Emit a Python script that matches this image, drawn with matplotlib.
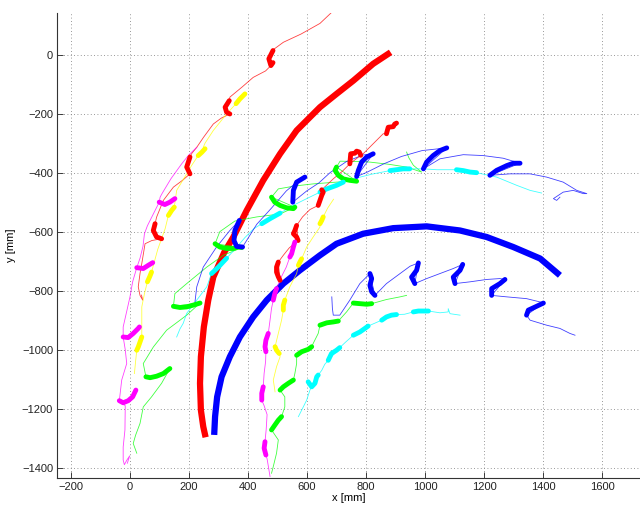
import matplotlib
matplotlib.use("Agg")
import matplotlib.pyplot as plt

plt.rcParams['font.family'] = ['Liberation Sans', 'DejaVu Sans']

# ---- main reference curves ----
red_curve_x = [257, 249, 241, 238, 241, 251, 266, 283, 320, 351, 396, 452, 509, 565, 644, 700, 757, 824, 883]
red_curve_y = [-1297, -1261, -1205, -1114, -1024, -923, -832, -754, -670, -618, -528, -426, -336, -257, -178, -133, -88, -31, 8]
blue_curve_x = [286, 289, 296, 311, 339, 373, 418, 464, 520, 576, 644, 700, 790, 892, 1005, 1118, 1208, 1298, 1389, 1456]
blue_curve_y = [-1289, -1227, -1160, -1092, -1024, -957, -889, -832, -776, -731, -680, -641, -607, -588, -582, -596, -618, -652, -691, -748]

# ---- trajectories: thin paths (x, y) and thick step segments ----
R1_path = [(682, 142), (644, 106), (580, 70), (520, 42), (490, 20), (485, 14), (471, -14), (478, -37), (460, -55),
           (418, -77), (380, -110), (339, -144), (337, -156), (323, -178), (328, -195), (339, -201), (310, -215),
           (283, -235), (250, -280), (227, -314), (210, -335), (204, -347), (193, -381), (204, -404), (180, -425),
           (148, -449), (114, -494), (91, -551), (86, -573), (80, -596), (91, -618), (108, -624), (75, -630),
           (52, -641), (41, -708), (35, -742), (29, -787), (35, -816), (44, -832), (40, -815)]
R1_steps = [[(485, 14), (471, -14), (478, -37), (485, -27)],
            [(337, -156), (323, -178), (328, -195), (339, -201)],
            [(204, -347), (193, -381), (204, -404)],
            [(86, -573), (80, -596), (91, -618), (108, -624)]]

M1_path = [(227, -314), (200, -340), (176, -370), (140, -420), (110, -470), (103, -483), (100, -500), (80, -540),
           (60, -580), (50, -607), (45, -650), (35, -690), (24, -722), (10, -770), (1, -821), (-10, -870),
           (-22, -923), (-22, -957), (-15, -1000), (-10, -1047), (-27, -1103), (-35, -1173), (-15, -1190),
           (-16, -1272), (-22, -1330), (-22, -1374), (-18, -1390), (-10, -1375), (0, -1360), (-8, -1385)]
M1_steps = [[(100, -500), (119, -508), (136, -500), (153, -488)],
            [(24, -722), (46, -725), (63, -714), (78, -705)],
            [(-22, -957), (-5, -959), (12, -945), (29, -928), (33, -923)],
            [(-35, -1173), (-22, -1180), (-5, -1173), (10, -1160), (21, -1137)]]

Y1_path = [(390, -133), (373, -150), (360, -166), (328, -201), (283, -257), (255, -300), (249, -314), (255, -319),
           (232, -342), (210, -375), (193, -404), (159, -460), (151, -517), (131, -545), (120, -590), (95, -660),
           (74, -737), (60, -770), (50, -810), (41, -855), (41, -900), (41, -957), (24, -1002), (20, -1040), (16, -1081)]
Y1_steps = [[(360, -166), (373, -150), (390, -133)],
            [(232, -342), (244, -331), (255, -319)],
            [(131, -545), (142, -528), (151, -517)],
            [(74, -737), (68, -752), (60, -770)],
            [(41, -957), (29, -991), (24, -1002)]]

G1_path = [(24, -1351), (12, -1318), (20, -1290), (35, -1250), (46, -1194), (74, -1160), (108, -1114), (136, -1064),
           (114, -1081), (91, -1090), (69, -1095), (55, -1092), (46, -1047), (80, -991), (125, -934), (193, -883),
           (238, -842), (148, -853), (153, -810), (193, -776), (261, -720), (317, -680), (379, -654), (289, -641),
           (305, -600), (356, -564), (430, -550), (509, -540), (559, -517), (480, -483), (503, -455), (560, -445),
           (621, -438), (700, -432), (768, -429), (700, -381), (712, -361), (760, -362), (812, -364), (880, -372),
           (937, -381), (988, -398), (960, -375), (945, -350), (937, -330)]
G1_steps = [[(136, -1064), (114, -1081), (91, -1090), (69, -1095), (55, -1092)],
            [(238, -842), (215, -849), (193, -855), (170, -857), (148, -853)],
            [(379, -654), (368, -652), (351, -657), (328, -657), (305, -652), (289, -641)],
            [(559, -517), (554, -522), (531, -519), (509, -511), (491, -500), (480, -483)],
            [(768, -429), (745, -426), (723, -421), (706, -409), (695, -392), (700, -381)]]

B1_path = [(221, -838), (227, -787), (249, -720), (294, -652), (339, -596), (371, -562), (356, -596), (353, -630),
           (362, -650), (382, -652), (430, -575), (480, -520), (530, -462), (570, -428), (593, -415), (565, -432),
           (554, -460), (552, -500), (599, -462), (640, -435), (678, -400), (734, -362), (790, -340), (824, -336),
           (768, -413), (800, -400), (860, -370),
           (920, -345), (990, -325), (1073, -316), (994, -387), (1050, -353), (1129, -339), (1196, -342),
           (1264, -351), (1321, -368), (1219, -409), (1287, -404), (1355, -404), (1411, -415), (1467, -432),
           (1513, -460), (1547, -471), (1535, -471), (1501, -460), (1467, -466), (1434, -488), (1445, -494), (1456, -483)]
B1_steps = [[(371, -562), (356, -596), (353, -630), (362, -650), (382, -652)],
            [(593, -415), (565, -432), (554, -460), (552, -500)],
            [(824, -336), (802, -347), (785, -364), (774, -392), (768, -413)],
            [(1073, -316), (1050, -325), (1027, -342), (1005, -364), (994, -387)],
            [(1321, -368), (1298, -368), (1276, -376), (1242, -392), (1219, -409)]]

C1_path = [(159, -957), (170, -930), (181, -911), (193, -877), (227, -832), (261, -787), (277, -742), (300, -720),
           (328, -690), (356, -660), (390, -620), (420, -590), (447, -573), (509, -537), (553, -511), (599, -488),
           (644, -466), (723, -432), (760, -420), (820, -405), (881, -393), (948, -387), (994, -387), (1039, -390),
           (1106, -390), (1174, -400), (1242, -415), (1310, -443), (1355, -460), (1394, -469)]
C1_steps = [[(277, -742), (300, -720), (328, -690)],
            [(447, -573), (475, -556), (509, -537)],
            [(644, -466), (667, -455), (700, -443), (723, -432)],
            [(881, -393), (903, -390), (926, -387), (948, -387)],
            [(1106, -390), (1129, -393), (1152, -398), (1174, -400)]]

R2_path = [(509, -765), (503, -703), (520, -680), (540, -655), (570, -630), (565, -579), (585, -550), (610, -525),
           (638, -511), (650, -458), (690, -420), (720, -395), (745, -370), (782, -341), (790, -336), (824, -302),
           (858, -268), (869, -268)]
R2_steps = [[(509, -765), (503, -753), (497, -737), (497, -720), (503, -703)],
            [(570, -630), (565, -618), (554, -607), (559, -596), (565, -579)],
            [(638, -511), (644, -494), (650, -477), (655, -466), (650, -458)],
            [(745, -370), (748, -336), (762, -334), (768, -327), (777, -330), (782, -341)],
            [(869, -268), (875, -246), (892, -244), (897, -235), (903, -232)]]

M2_path = [(475, -1430), (470, -1400), (465, -1370), (461, -1357), (458, -1312), (462, -1270), (465, -1220),
           (455, -1190), (447, -1171), (452, -1126), (455, -1080), (460, -1040), (461, -1007), (469, -945),
           (475, -900), (480, -860), (486, -832), (497, -793), (510, -760), (530, -720), (542, -686), (559, -635),
           (565, -620)]
M2_steps = [[(461, -1357), (455, -1334), (458, -1312)],
            [(447, -1171), (447, -1148), (452, -1126)],
            [(461, -1007), (458, -990), (461, -968), (469, -945)],
            [(486, -832), (491, -810), (497, -793)],
            [(542, -686), (548, -675), (554, -652), (559, -635)]]

Y2_path = [(492, -1143), (486, -1103), (497, -1058), (509, -1024), (506, -1013), (492, -990), (503, -945),
           (514, -900), (520, -866), (525, -832), (542, -787), (565, -742), (571, -714), (582, -692), (599, -652),
           (621, -618), (644, -584), (644, -573), (655, -550), (670, -520), (690, -490)]
Y2_steps = [[(506, -1013), (497, -1002), (492, -990)],
            [(520, -866), (520, -849), (525, -832)],
            [(571, -714), (576, -703), (582, -692)],
            [(644, -573), (650, -562), (655, -550)]]

G2_path = [(480, -1419), (486, -1396), (497, -1351), (503, -1306), (480, -1272), (514, -1227), (525, -1194),
           (525, -1160), (509, -1137), (554, -1103), (559, -1081), (565, -1047), (565, -1019), (616, -990),
           (621, -979), (638, -945), (644, -917), (706, -903), (734, -872), (757, -842), (819, -844), (869, -830),
           (915, -821), (937, -816)]
G2_steps = [[(480, -1272), (491, -1256), (503, -1239), (514, -1227)],
            [(509, -1137), (520, -1126), (537, -1114), (554, -1103)],
            [(565, -1019), (582, -1007), (604, -999), (616, -990)],
            [(644, -917), (667, -909), (689, -906), (706, -903)],
            [(757, -842), (779, -844), (802, -846), (819, -844)]]

C2_path = [(571, -1227), (582, -1205), (599, -1171), (610, -1137), (616, -1126), (638, -1086), (650, -1070),
           (660, -1050), (672, -1036), (711, -993), (730, -975), (757, -951), (807, -920), (830, -910), (853, -900),
           (903, -881), (930, -880), (960, -872), (1011, -869), (1050, -875), (1078, -872), (1078, -861),
           (1084, -878), (1118, -883)]
C2_steps = [[(604, -1109), (616, -1126), (627, -1114), (633, -1092), (638, -1086)],
            [(672, -1036), (683, -1013), (700, -1002), (711, -993)],
            [(757, -951), (779, -940), (796, -928), (807, -920)],
            [(853, -900), (869, -889), (886, -883), (903, -881)],
            [(960, -872), (977, -869), (994, -869), (1011, -869)]]

B2_path = [(684, -821), (686, -860), (689, -883), (711, -883), (745, -832), (779, -776), (813, -742), (830, -816),
           (869, -776), (915, -742), (949, -717), (977, -706), (965, -776), (1005, -759), (1050, -742), (1095, -725),
           (1127, -711), (1101, -776), (1152, -770), (1208, -762), (1253, -759), (1270, -762), (1225, -816),
           (1276, -821), (1343, -827), (1388, -838), (1400, -842), (1343, -883), (1355, -900), (1411, -917),
           (1456, -928), (1490, -945), (1507, -951)]
B2_steps = [[(813, -742), (819, -759), (813, -782), (819, -804), (830, -816)],
            [(977, -706), (971, -731), (954, -754), (965, -776)],
            [(1127, -711), (1118, -731), (1095, -754), (1101, -776)],
            [(1270, -762), (1253, -776), (1225, -793), (1225, -816)],
            [(1400, -842), (1377, -853), (1349, -866), (1343, -883)]]

trajectories = [
    (R1_path, R1_steps, '#ff0000'), (M1_path, M1_steps, '#ff00ff'), (Y1_path, Y1_steps, '#ffff00'),
    (G1_path, G1_steps, '#00ff00'), (C1_path, C1_steps, '#00ffff'), (B1_path, B1_steps, '#0000ff'),
    (R2_path, R2_steps, '#ff0000'), (M2_path, M2_steps, '#ff00ff'), (Y2_path, Y2_steps, '#ffff00'),
    (G2_path, G2_steps, '#00ff00'), (C2_path, C2_steps, '#00ffff'), (B2_path, B2_steps, '#0000ff'),
]

fig = plt.figure(figsize=(6.4, 5.07), dpi=100)
ax = fig.add_axes([0.0895, 0.0578, 0.9105, 0.9164])

ax.plot(red_curve_x, red_curve_y, color='#ff0000', lw=4.5, solid_capstyle='butt', zorder=3)
ax.plot(blue_curve_x, blue_curve_y, color='#0000ff', lw=4.5, solid_capstyle='butt', zorder=3)

for path, steps, col in trajectories:
    px = [p[0] for p in path]
    py = [p[1] for p in path]
    ax.plot(px, py, color=col, lw=0.6, alpha=0.75, zorder=4)
for path, steps, col in trajectories:
    for seg in steps:
        sx = [p[0] for p in seg]
        sy = [p[1] for p in seg]
        ax.plot(sx, sy, color=col, lw=3.5, solid_capstyle='round', solid_joinstyle='round', zorder=5)

ax.set_xlim(-245, 1727)
ax.set_ylim(-1434, 141)
ax.set_xticks(range(-200, 1601, 200))
ax.set_yticks(range(-1400, 1, 200))
ax.grid(True, linestyle=(0, (1, 3)), color='#777777', lw=0.6)
ax.set_axisbelow(True)
for s in ['top', 'right']:
    ax.spines[s].set_visible(False)
for s in ['left', 'bottom']:
    ax.spines[s].set_linewidth(0.8)
    ax.spines[s].set_color('#333333')
ax.tick_params(direction='in', length=4, width=0.6, labelsize=8, pad=3, colors='#222222')
ax.set_xlabel('x [mm]', fontsize=8, labelpad=1)
ax.set_ylabel('y [mm]', fontsize=8, labelpad=4)

fig.savefig('out.png', dpi=100)
